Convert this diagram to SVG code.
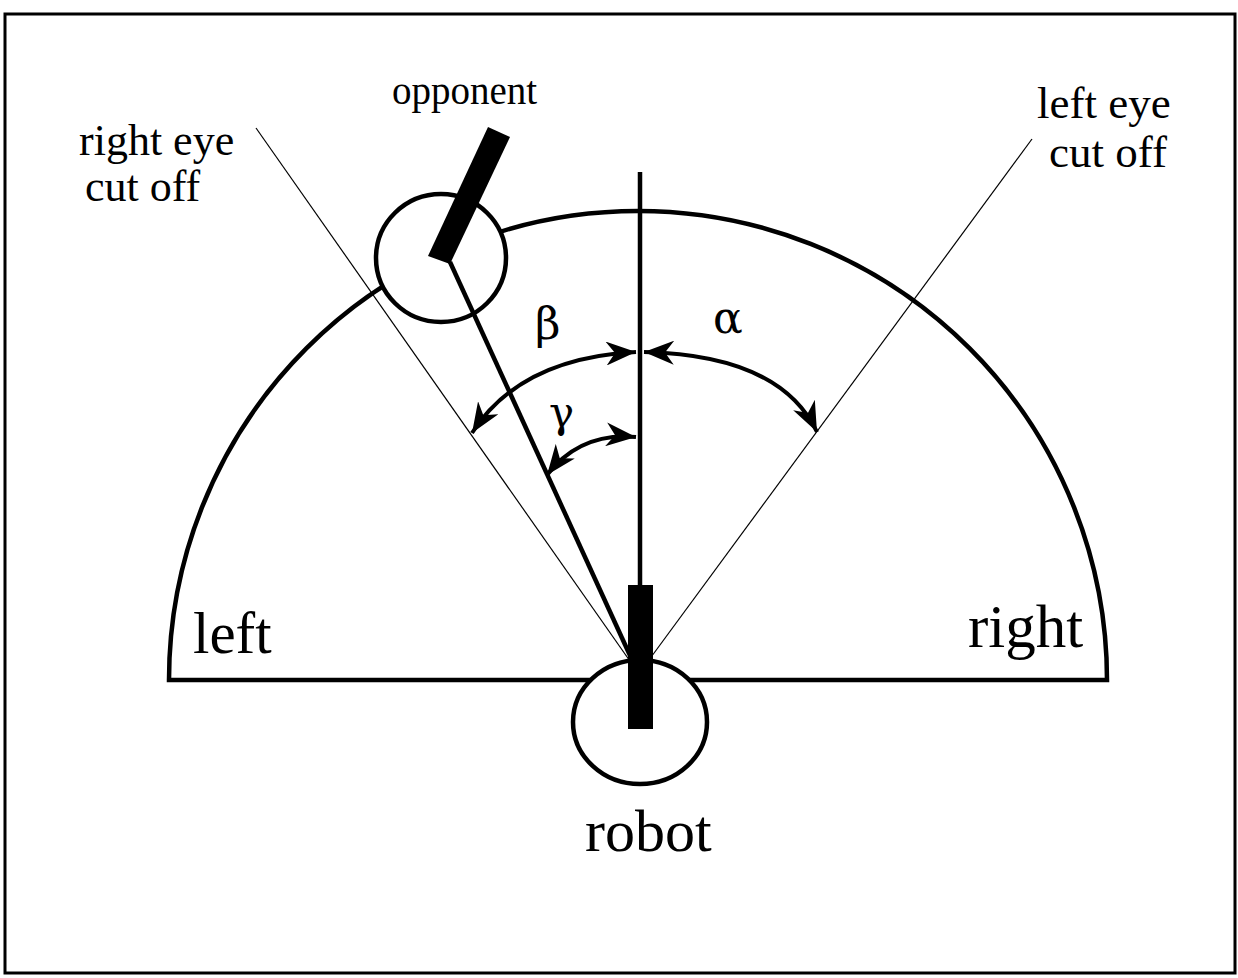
<svg xmlns="http://www.w3.org/2000/svg" width="1238" height="978" viewBox="0 0 1238 978">
<style>
.txt{font-family:"Liberation Serif","Times New Roman",serif;fill:#000}
.greek{font-family:"DejaVu Serif","Liberation Serif",serif;fill:#000}
.thick{stroke:#000;stroke-width:4.5;fill:none}
.thin{stroke:#000;stroke-width:1.2;fill:none}
.arc{stroke:#000;stroke-width:4;fill:none;marker-start:url(#ah);marker-end:url(#ah)}
.shape{stroke:#000;stroke-width:4.5;fill:#fff}
</style>
<defs>
<marker id="ah" markerUnits="userSpaceOnUse" markerWidth="32" markerHeight="24" viewBox="0 0 32 24" refX="30" refY="12" orient="auto-start-reverse">
<path d="M0,0 L30,12 L0,24 L9,12 Z" fill="#000"/>
</marker>
</defs>
<rect x="5" y="14" width="1230" height="959" fill="#fff" stroke="#000" stroke-width="3"/>
<g id="field">
<path d="M169,680 A469,469 0 0 1 1107,680 Z" class="shape"/>
</g>
<g id="connectors">
<line x1="256" y1="128" x2="632" y2="664" class="thin"/>
<line x1="1032" y1="139" x2="646" y2="664" class="thin"/>
<line x1="640" y1="172" x2="640" y2="590" class="thick"/>
<path d="M472,433 Q520,358 636,352" class="arc"/>
<path d="M644,352 Q780,355 817,432" class="arc"/>
<path d="M636,437 Q580,432 547,475" class="arc"/>
</g>
<g id="opponent">
<ellipse cx="441" cy="258" rx="65" ry="64" class="shape"/>
<line x1="450" y1="262" x2="633" y2="662" class="thick"/>
<polygon points="488,127 510,137 450,264 428,256" fill="#000"/>
<text x="392" y="104" class="txt" font-size="39">opponent</text>
</g>
<g id="robot">
<ellipse cx="640" cy="722" rx="67" ry="62" class="shape"/>
<rect x="628" y="585" width="25" height="144" fill="#000"/>
<text x="585" y="851" class="txt" font-size="60">robot</text>
</g>
<g id="labels">
<text x="79" y="155" class="txt" font-size="44">right eye</text>
<text x="85" y="201" class="txt" font-size="44">cut off</text>
<text x="1037" y="118" class="txt" font-size="45">left eye</text>
<text x="1049" y="167" class="txt" font-size="45">cut off</text>
<text x="193" y="653" class="txt" font-size="59">left</text>
<text x="968" y="647" class="txt" font-size="61">right</text>
<text x="535" y="339" class="greek" font-size="44">β</text>
<text x="713" y="333" class="greek" font-size="44">α</text>
<text x="549" y="427" class="greek" font-size="42">γ</text>
</g>
</svg>
